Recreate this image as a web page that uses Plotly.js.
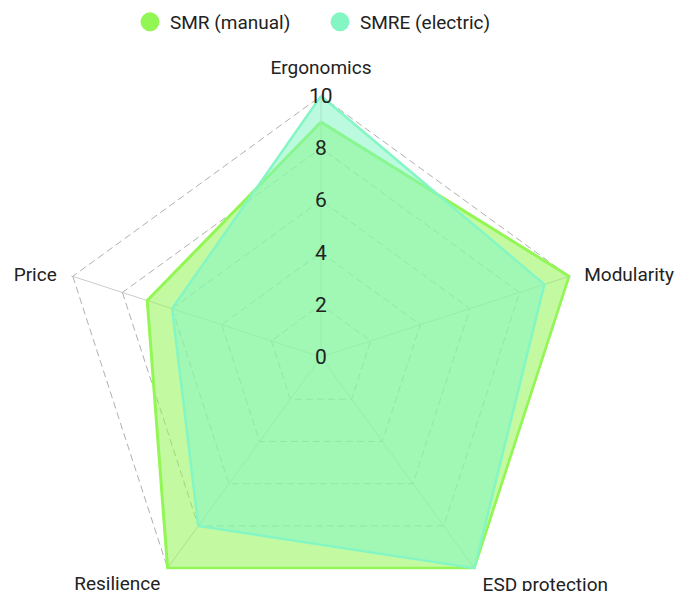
<!DOCTYPE html>
<html>
<head>
<meta charset="utf-8">
<script src="https://cdn.plot.ly/plotly-3.0.1.min.js"></script>
<style>
  html, body { margin: 0; padding: 0; overflow: hidden; background: #fff; }
  #chart { width: 690px; height: 650px; }
</style>
</head>
<body>
<div id="chart"></div>
<script>
const categories = ['Ergonomics', 'Modularity', 'ESD protection', 'Resilience', 'Price'];
const smrManual = [9, 10, 10, 10, 7];
const smreElectric = [10, 9, 10, 8, 6];
const radialTicks = [0, 2, 4, 6, 8, 10];
const seriesNames = ['SMR (manual)', 'SMRE (electric)'];
const seriesColors = ['rgb(146,246,84)', 'rgb(132,246,196)'];
const seriesFills = ['rgba(146,246,84,0.55)', 'rgba(132,246,196,0.55)'];
// label placement around the web (outward direction + spacing)
const labelPositions = ['top center', 'middle right', 'bottom right', 'bottom left', 'middle left'];
const labelGaps = [25.6, 22.4, 11.5, 10, 24];

const close = arr => arr.concat([arr[0]]);
const FONT = 'Roboto, Inter, "Noto Sans", sans-serif';

// geometry of the web (pixels)
const W = 690, H = 650, CX = 321, CY = 357, R10 = 261;
const RMAX = 10.06;
const RPX = R10 * RMAX / 10;
const cyB = H - CY;

const traces = [
  {
    type: 'scatterpolar', name: seriesNames[0], showlegend: false,
    r: close(smrManual), theta: close(categories),
    mode: 'lines', fill: 'toself',
    line: { color: seriesColors[0], width: 3 },
    fillcolor: seriesFills[0], hoverinfo: 'skip'
  },
  {
    type: 'scatterpolar', name: seriesNames[1], showlegend: false,
    r: close(smreElectric), theta: close(categories),
    mode: 'lines', fill: 'toself',
    line: { color: seriesColors[1], width: 2.5 },
    fillcolor: seriesFills[1], hoverinfo: 'skip'
  },
  {
    type: 'scatterpolar', showlegend: false,
    r: categories.map(() => 10), theta: categories,
    mode: 'markers+text', text: categories, textposition: labelPositions,
    marker: { size: labelGaps, opacity: 0, color: '#fff' },
    textfont: { family: FONT, size: 19, color: '#222' },
    hoverinfo: 'skip', cliponaxis: false
  },
  // legend-only entries (kept outside their invisible axis range so nothing is drawn)
  {
    type: 'scatter', name: seriesNames[0], x: [-10], y: [-10], mode: 'markers',
    cliponaxis: true,
    marker: { color: seriesColors[0], size: 16, symbol: 'circle', line: { color: seriesColors[0], width: 3 } }
  },
  {
    type: 'scatter', name: seriesNames[1], x: [-10], y: [-10], mode: 'markers',
    cliponaxis: true,
    marker: { color: seriesColors[1], size: 16, symbol: 'circle', line: { color: seriesColors[1], width: 3 } }
  }
];

const annotations = radialTicks.map(v => ({
  xref: 'x', yref: 'y', x: 0, y: v, text: String(v), showarrow: false,
  xanchor: 'center', yanchor: 'middle',
  font: { family: FONT, size: 21, color: '#222' }
}));

const layout = {
  width: W, height: H,
  margin: { l: 0, r: 0, t: 0, b: 0 },
  paper_bgcolor: '#fff',
  plot_bgcolor: 'rgba(0,0,0,0)',
  font: { family: FONT, color: '#222', size: 18 },
  showlegend: true,
  legend: {
    orientation: 'h', x: 130 / W, xanchor: 'left', y: 1 - 3 / H, yanchor: 'top',
    entrywidth: 145, entrywidthmode: 'pixels',
    font: { family: FONT, size: 19, color: '#222' }
  },
  // cartesian frame aligned with the vertical (Ergonomics) spoke, used for radial labels
  xaxis: { domain: [(CX - R10) / W, (CX + R10) / W], range: [-1, 1], visible: false, fixedrange: true },
  yaxis: { domain: [cyB / H, (cyB + R10) / H], range: [0, 10], visible: false, fixedrange: true },
  annotations: annotations,
  polar: {
    domain: { x: [(CX - RPX) / W, (CX + RPX) / W], y: [(cyB - RPX) / H, (cyB + RPX) / H] },
    gridshape: 'linear',
    bgcolor: 'rgba(0,0,0,0)',
    radialaxis: {
      range: [0, RMAX], tickvals: radialTicks, showticklabels: false,
      showline: false, ticks: '', angle: 90,
      gridcolor: '#b0b0b0', griddash: '7px,4px', gridwidth: 1
    },
    angularaxis: {
      direction: 'clockwise', rotation: 90, showline: false, ticks: '',
      showticklabels: false,
      gridcolor: '#cccccc', gridwidth: 1
    }
  }
};

Plotly.newPlot('chart', traces, layout, { displayModeBar: false, staticPlot: true });
</script>
</body>
</html>
